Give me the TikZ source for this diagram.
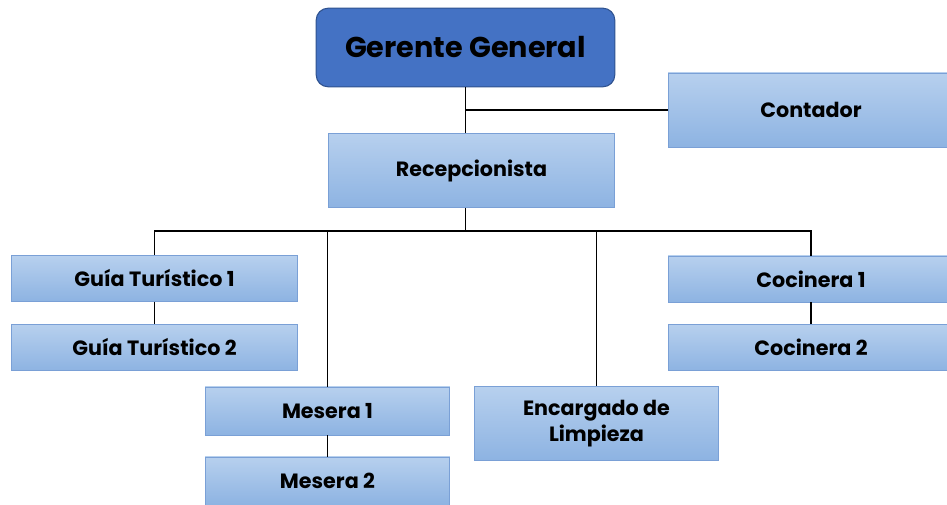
\documentclass[tikz,border=0pt]{standalone}
\usepackage{fontspec}
\setmainfont{Poppins}
\usetikzlibrary{positioning,calc}
\definecolor{gerfill}{HTML}{4472C4}
\definecolor{gerdraw}{HTML}{2F528F}
\definecolor{boxtop}{HTML}{B7D0EE}
\definecolor{boxbot}{HTML}{8DB3E2}
\definecolor{boxdraw}{HTML}{7AA0D6}
\begin{document}
\begin{tikzpicture}[x=0.75pt,y=-0.75pt,
  orgbox/.style={rectangle, draw=boxdraw, line width=0.6pt, top color=boxtop, bottom color=boxbot,
    inner sep=0pt, align=center, font=\bfseries\fontsize{15.5}{20}\selectfont, text=black},
  topbox/.style={rectangle, rounded corners=9pt, draw=gerdraw, line width=0.8pt, fill=gerfill,
    inner sep=0pt, font=\bfseries\fontsize{21.5}{25}\selectfont, text=black},
  link/.style={draw=black, line width=1.3pt}]
\useasboundingbox (0,0) rectangle (947,505);
\node[topbox, minimum width=224pt, minimum height=59pt] (ger) at (465.5,47.5) {Gerente General};
\node[orgbox, minimum width=214.5pt, minimum height=55.5pt] (cont) at (811,110) {Contador};
\node[orgbox, minimum width=215pt, minimum height=56pt] (rec) at (471.5,170.5) {Recepcionista};
\node[orgbox, minimum width=215pt, minimum height=34pt] (g1) at (154.5,278.5) {Guía Turístico 1};
\node[orgbox, minimum width=215pt, minimum height=35pt] (g2) at (154.5,347.5) {Guía Turístico 2};
\node[orgbox, minimum width=183.5pt, minimum height=36pt] (m1) at (327.5,411) {Mesera 1};
\node[orgbox, minimum width=183.5pt, minimum height=36pt] (m2) at (327.5,481) {Mesera 2};
\node[orgbox, minimum width=183.5pt, minimum height=55pt] (enc) at (596.5,423.5) {Encargado de\\Limpieza};
\node[orgbox, minimum width=214.5pt, minimum height=34.5pt] (c1) at (811,279) {Cocinera 1};
\node[orgbox, minimum width=214.5pt, minimum height=35pt] (c2) at (811,347.5) {Cocinera 2};
\coordinate (j1) at (ger.south |- cont.west);
\coordinate (recbot) at (ger.south |- rec.south);
\coordinate (bus) at ($(recbot)+(0,23)$);
\draw[link] (ger.south) -- (ger.south |- rec.north);
\draw[link] (j1) -- (cont.west);
\draw[link] (recbot) -- (bus);
\draw[link] (bus) -| (g1.north);
\draw[link] (bus) -| (m1.north);
\draw[link] (bus) -| (enc.north);
\draw[link] (bus) -| (c1.north);
\draw[link] (g1) -- (g2);
\draw[link] (m1) -- (m2);
\draw[link] (c1) -- (c2);
\end{tikzpicture}
\end{document}
